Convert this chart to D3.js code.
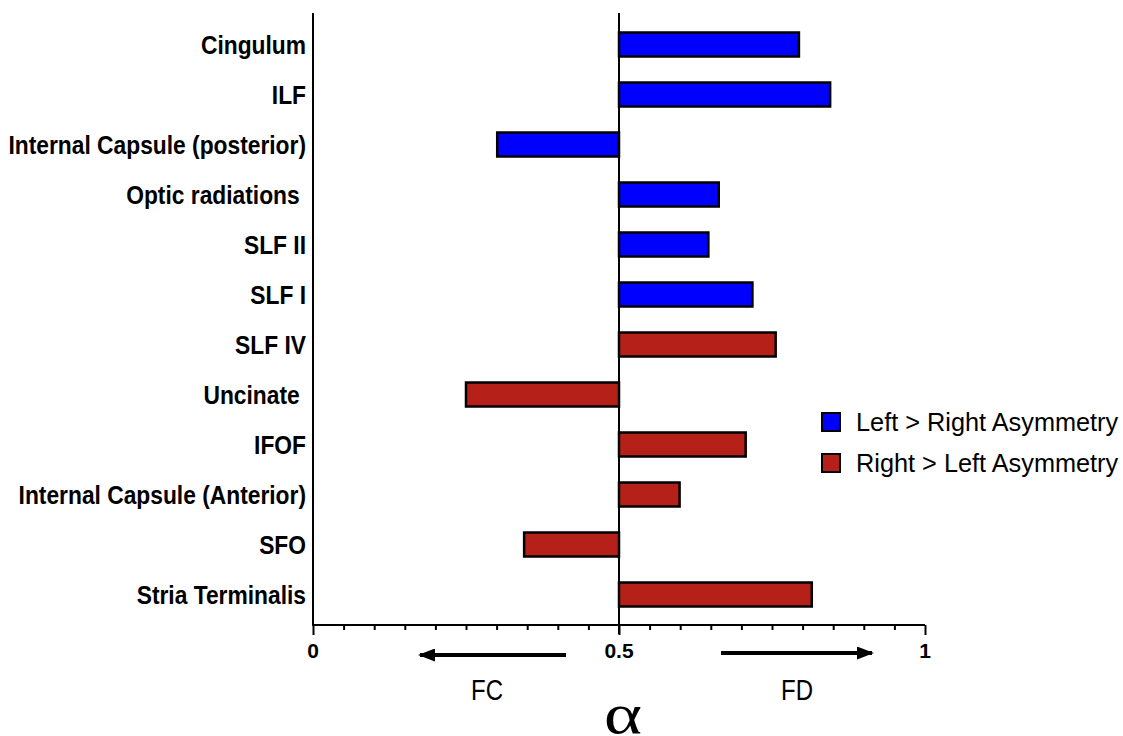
<!DOCTYPE html>
<html>
<head>
  <meta charset="utf-8">
  <title>Tract asymmetry alpha</title>
  <script src="https://d3js.org/d3.v7.min.js"></script>
  <style>
    body { margin: 0; background: #fff; }
    .tractlabel { font-family: "Liberation Sans", Arial, sans-serif; font-weight: bold; font-size: 22.8px; white-space: pre; }
    .ticklabel { font-family: "Liberation Sans", Arial, sans-serif; font-weight: bold; font-size: 21px; }
    .plain { font-family: "Liberation Sans", Arial, sans-serif; font-size: 24px; }
    .legendtext { font-family: "Liberation Sans", Arial, sans-serif; font-size: 25.3px; }
  </style>
</head>
<body>
  <svg id="screen"></svg>

  <script>
    // tract names, top to bottom
    const tracts = ["Cingulum", "ILF", "Internal Capsule (posterior)", "Optic radiations ",
                    "SLF II", "SLF I", "SLF IV", "Uncinate ", "IFOF",
                    "Internal Capsule (Anterior)", "SFO", "Stria Terminalis"]
    // alpha value per tract
    const alphas = [0.794, 0.845, 0.301, 0.663, 0.646, 0.718, 0.756, 0.250, 0.707, 0.599, 0.345, 0.815]
    // which asymmetry group each tract is in
    const groups = ["L", "L", "L", "L", "L", "L", "R", "R", "R", "R", "R", "R"]
    const legendLabels = ["Left > Right Asymmetry", "Right > Left Asymmetry"]
    const majorTicks = [0, 0.5, 1]
    const minorTicks = d3.range(0, 1.0001, 0.05)

    const colors = {L: "#0000ff", R: "#b52018"}

    let svg = {width: 1123, height: 736}
    let frame = d3.select("#screen")
      .attr("width", svg.width)
      .attr("height", svg.height)

    let x = d3.scaleLinear().domain([0, 1]).range([313, 925])
    let y = d3.scaleBand().domain(tracts).range([19.5, 619.5]).paddingInner(0.52).paddingOuter(0.26)

    let g = frame.append("g")

    // bars
    g.selectAll("rect.bar")
      .data(tracts)
      .enter()
      .append("rect")
      .attr("class", "bar")
      .attr("x", (d, i) => Math.min(x(alphas[i]), x(0.5)))
      .attr("width", (d, i) => Math.abs(x(alphas[i]) - x(0.5)))
      .attr("y", d => y(d))
      .attr("height", y.bandwidth())
      .attr("fill", (d, i) => colors[groups[i]])
      .attr("stroke", "black")
      .attr("stroke-width", 2.5)

    // tract labels (the original text is a little taller than it is wide)
    g.selectAll("text.tractlabel")
      .data(tracts)
      .enter()
      .append("text")
      .attr("class", "tractlabel")
      .attr("transform", d => `translate(306,${y(d) + y.bandwidth() / 2}) scale(1,1.1)`)
      .attr("dy", "0.36em")
      .attr("text-anchor", "end")
      .text(d => d)

    // left axis line and the 0.5 line
    g.append("line").attr("x1", x(0)).attr("x2", x(0)).attr("y1", 13).attr("y2", 626)
      .attr("stroke", "black").attr("stroke-width", 2)
    g.append("line").attr("x1", x(0.5)).attr("x2", x(0.5)).attr("y1", 13).attr("y2", 634)
      .attr("stroke", "black").attr("stroke-width", 2)

    // bottom axis
    let axisY = 625
    let xAxis = d3.axisBottom(x).tickValues(minorTicks).tickSize(5).tickFormat("")
    let ax = g.append("g").attr("transform", `translate(0,${axisY})`).call(xAxis)
    ax.select(".domain").attr("d", `M${x(0)},0H${x(1)}`).attr("stroke", "black").attr("stroke-width", 2)
    ax.selectAll(".tick line").attr("stroke", "black").attr("stroke-width", 2)
      .attr("y2", d => majorTicks.some(m => Math.abs(m - d) < 1e-6) ? 10 : 5)

    g.selectAll("text.ticklabel")
      .data(majorTicks)
      .enter()
      .append("text")
      .attr("class", "ticklabel")
      .attr("x", d => x(d))
      .attr("y", 658)
      .attr("text-anchor", "middle")
      .text(d => d)

    // direction arrows
    let defs = frame.append("defs")
    defs.append("marker")
      .attr("id", "head")
      .attr("viewBox", "0 0 17 13")
      .attr("refX", 15).attr("refY", 6.5)
      .attr("markerWidth", 4.25).attr("markerHeight", 3.25)
      .attr("orient", "auto")
      .append("path").attr("d", "M0,0L17,6.5L0,13z").attr("fill", "black")

    g.append("line").attr("x1", 566).attr("x2", 420).attr("y1", 655).attr("y2", 655)
      .attr("stroke", "black").attr("stroke-width", 4).attr("marker-end", "url(#head)")
    g.append("line").attr("x1", 721).attr("x2", 872).attr("y1", 653).attr("y2", 653)
      .attr("stroke", "black").attr("stroke-width", 4).attr("marker-end", "url(#head)")

    g.append("text").attr("class", "plain").attr("transform", "translate(487,700) scale(1,1.2)")
      .attr("text-anchor", "middle").text("FC")
    g.append("text").attr("class", "plain").attr("transform", "translate(797,700) scale(1,1.2)")
      .attr("text-anchor", "middle").text("FD")
    g.append("text").attr("transform", "translate(623,733) scale(1.25,1)")
      .attr("text-anchor", "middle")
      .style("font-family", "'Liberation Serif', 'Times New Roman', serif")
      .style("font-size", "58px")
      .text("α")

    // legend
    let legend = g.selectAll("g.legend")
      .data(legendLabels)
      .enter()
      .append("g")
      .attr("class", "legend")
      .attr("transform", (d, i) => `translate(822,${413 + i * 41})`)
    legend.append("rect")
      .attr("width", 18).attr("height", 18)
      .attr("fill", (d, i) => i === 0 ? colors.L : colors.R)
      .attr("stroke", "black").attr("stroke-width", 2)
    legend.append("text")
      .attr("class", "legendtext")
      .attr("x", 34).attr("y", 9).attr("dy", "0.36em")
      .text(d => d)
  </script>
</body>
</html>
